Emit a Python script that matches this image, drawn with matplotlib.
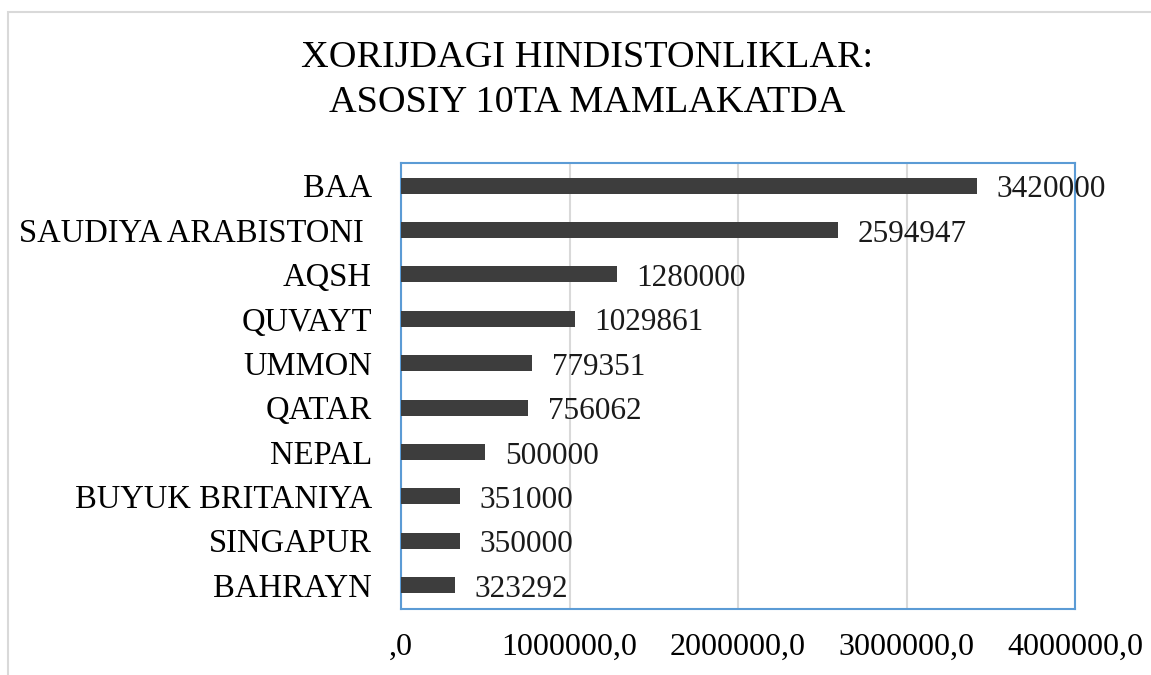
""" Indians abroad: top 10 countries """

from matplotlib import pyplot as plt
from matplotlib.patches import Rectangle
from matplotlib.ticker import FuncFormatter

countries = ["BAA", "SAUDIYA ARABISTONI ", "AQSH", "QUVAYT", "UMMON",
             "QATAR", "NEPAL", "BUYUK BRITANIYA", "SINGAPUR", "BAHRAYN"]
people = [3420000, 2594947, 1280000, 1029861, 779351,
          756062, 500000, 351000, 350000, 323292]
xticks = [0, 1000000, 2000000, 3000000, 4000000]

plt.rcParams["font.family"] = ["Liberation Serif", "DejaVu Serif"]

fig = plt.figure(figsize=(11.51, 6.75), dpi=100)
fig.patches.append(Rectangle((8 / 1151, -0.1), 1.2, 1.1 - 12 / 675,
                             transform=fig.transFigure, fill=False,
                             edgecolor="#d9d9d9", linewidth=1.5))

ax = fig.add_axes([401 / 1151, 1 - 609 / 675, 674 / 1151, 446 / 675])
ypos = list(range(len(countries)))
ax.barh(ypos, people, height=0.36, color="#3d3d3d", zorder=3)
for y, v in zip(ypos, people):
    ax.annotate(str(v), (v, y), xytext=(14, -3), textcoords="offset points",
                va="center", ha="left", fontsize=22.5, color="#1a1a1a",
                zorder=5, annotation_clip=False)

ax.set_yticks(ypos)
ax.set_yticklabels(countries, fontsize=23.5)
ax.set_ylim(len(countries) - 0.46, -0.51)
ax.set_xlim(0, 4000000)
ax.set_xticks(xticks)
ax.xaxis.set_major_formatter(
    FuncFormatter(lambda v, p: ",0" if v == 0 else f"{int(v)},0"))
ax.tick_params(axis="x", labelsize=23, length=0, pad=17)
ax.tick_params(axis="y", length=0, pad=21)
ax.grid(axis="x", color="#d9d9d9", linewidth=1.5, zorder=0)
for s in ax.spines.values():
    s.set_color("#5b9bd5")
    s.set_linewidth(1.5)

fig.text(587 / 1151, 1 - 80.5 / 675,
         "XORIJDAGI HINDISTONLIKLAR:\nASOSIY 10TA MAMLAKATDA",
         ha="center", va="center", fontsize=27.5, linespacing=1.4)

fig.savefig("out.png", dpi=100)
